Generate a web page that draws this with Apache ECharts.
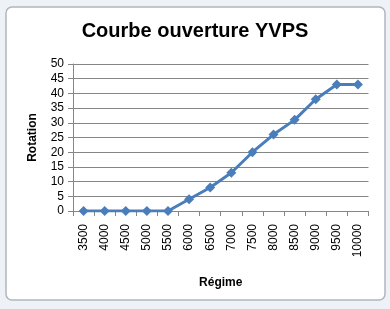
<!DOCTYPE html>
<html><head><meta charset="utf-8">
<script src="https://cdn.jsdelivr.net/npm/echarts@6/dist/echarts.min.js"></script>
<style>html,body{margin:0;padding:0;background:#fff}#c{width:390px;height:309px}</style>
</head><body><div id="c"></div>
<script>
var categories = ['3500','4000','4500','5000','5500','6000','6500','7000','7500','8000','8500','9000','9500','10000'];
var rotation = [0,0,0,0,0,4,8,13,20,26,31,38,43,43];
var yTicks = [0,5,10,15,20,25,30,35,40,45,50];

var chart = echarts.init(document.getElementById('c'));
var font = 'Liberation Sans, Arial, sans-serif';
chart.setOption({
  animation: false,
  backgroundColor: '#eef2f7',
  graphic: [
    {type:'rect', shape:{x:6,y:7,width:379,height:293,r:6}, style:{fill:'#ffffff', stroke:'#aeb6be', lineWidth:1.5}, z:-10}
  ],
  title: {
    text: 'Courbe ouverture YVPS', left: 'center', top: 16,
    textStyle: {fontFamily: font, fontSize: 20, fontWeight: 'bold', color: '#000'}
  },
  grid: {left: 73, right: 21.5, top: 64, bottom: 98},
  xAxis: {
    type: 'category', data: categories, boundaryGap: true,
    name: 'Régime', nameLocation: 'middle', nameGap: 66,
    nameTextStyle: {fontFamily: font, fontSize: 12, fontWeight: 'bold', color: '#000'},
    axisLine: {lineStyle: {color: '#868686'}},
    axisTick: {show: true, alignWithLabel: false, length: 5, lineStyle: {color: '#868686'}},
    axisLabel: {rotate: 90, fontFamily: font, fontSize: 12, color: '#000', margin: 13}
  },
  yAxis: {
    type: 'value', min: 0, max: 50, interval: 5,
    name: 'Rotation', nameLocation: 'middle', nameGap: 34, nameRotate: 90,
    nameTextStyle: {fontFamily: font, fontSize: 12, fontWeight: 'bold', color: '#000'},
    axisLine: {show: true, lineStyle: {color: '#868686'}},
    axisTick: {show: true, length: 5, lineStyle: {color: '#868686'}},
    axisLabel: {fontFamily: font, fontSize: 12, color: '#000', margin: 9}
    ,splitLine: {lineStyle: {color: '#868686'}}
  },
  series: [{
    type: 'line', data: rotation,
    symbol: 'diamond', symbolSize: 10,
    lineStyle: {color: '#4a7ebb', width: 3},
    itemStyle: {color: '#4a7ebb'}
  }]
});
</script></body></html>
